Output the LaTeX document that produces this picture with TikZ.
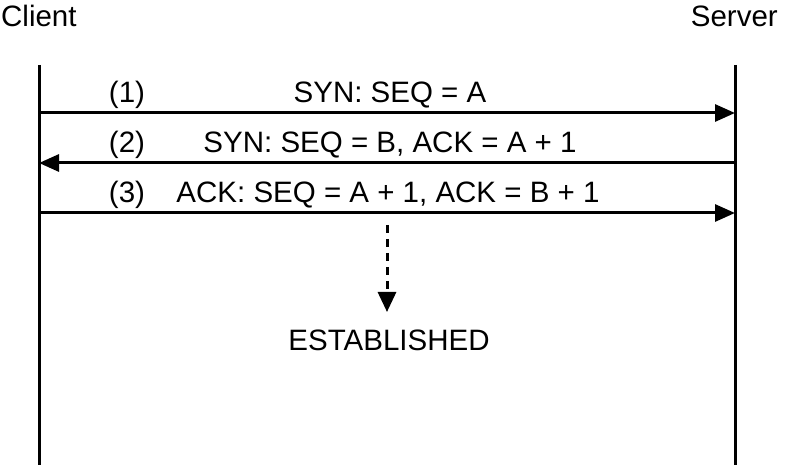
\documentclass[tikz,border=0pt]{standalone}
\usepackage{fontspec}
\setmainfont{Liberation Sans}
\usetikzlibrary{arrows.meta}
\begin{document}
\begin{tikzpicture}[x=1pt,y=-1pt,
  lbl/.style={inner sep=0pt,font=\fontsize{29.5}{34}\selectfont},
  life/.style={line width=3pt},
  msg/.style={line width=3pt,-{Triangle[length=20pt,width=17pt]}},
  dsh/.style={line width=3pt,dash pattern=on 8pt off 6pt,-{Triangle[length=20pt,width=18pt]}}]
\useasboundingbox (0,0) rectangle (785,465);
\node[lbl,anchor=west] (client) at (1,16) {Client};
\node[lbl,anchor=east] (server) at (778,16) {Server};
\coordinate (ct) at (39,65);
\coordinate (cb) at (39,465);
\coordinate (st) at (735,65);
\coordinate (sb) at (735,465);
\draw[life] (ct) -- (cb);
\draw[life] (st) -- (sb);
\coordinate (c1) at (39,113);
\coordinate (s1) at (735,113);
\coordinate (c2) at (39,163);
\coordinate (s2) at (735,163);
\coordinate (c3) at (39,213);
\coordinate (s3) at (735,213);
\draw[msg] (c1) -- (s1);
\draw[msg] (s2) -- (c2);
\draw[msg] (c3) -- (s3);
\node[lbl] (n1) at (127,95) {(1)};
\node[lbl] (m1) at (390,95) {SYN: SEQ = A};
\node[lbl] (n2) at (127,145) {(2)};
\node[lbl] (m2) at (390,145) {SYN: SEQ = B, ACK = A + 1};
\node[lbl] (n3) at (127,195) {(3)};
\node[lbl] (m3) at (388,195) {ACK: SEQ = A + 1, ACK = B + 1};
\node[lbl] (est) at (389,340) {ESTABLISHED};
\coordinate (d0) at (387,225);
\coordinate (d1) at (387,312);
\draw[dsh] (d0) -- (d1);
\end{tikzpicture}
\end{document}
